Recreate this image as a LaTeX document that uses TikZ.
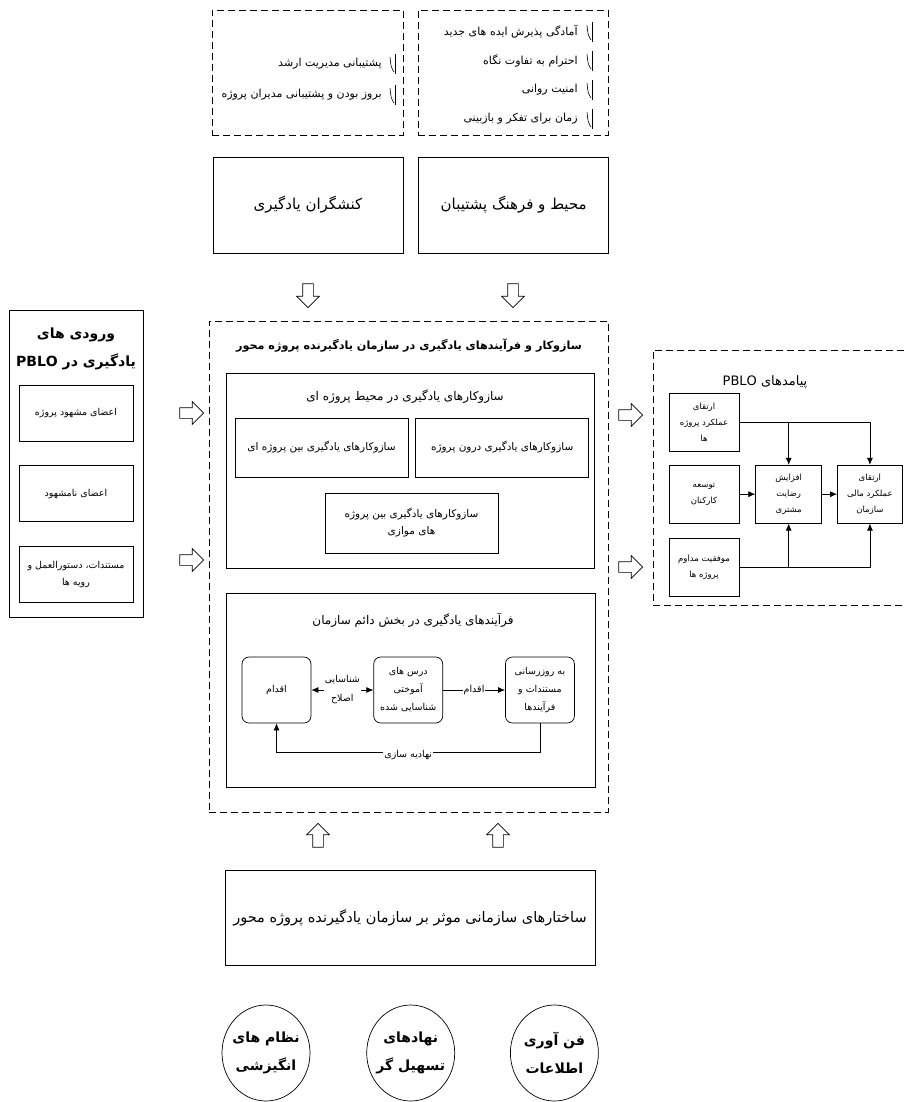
\documentclass[tikz,border=0pt]{standalone}
\usepackage{fontspec}
\setmainfont{DejaVu Sans}[Script=Arabic]
\TeXXeTstate=1
\usetikzlibrary{shapes.geometric, shapes.arrows, arrows.meta, positioning}

\newcommand{\rl}[1]{\beginR #1\endR}
\newcommand{\tickmark}[2]{%
  \draw[line width=0.6pt] (#1,#2-10) -- (#1,#2+10);
  \draw[line width=0.6pt] (#1-5,#2-7) .. controls (#1-4,#2+3) .. (#1-1,#2+8);}

\begin{document}
\begin{tikzpicture}[
    x=1pt, y=-1pt,
    line width=0.7pt,
    box/.style={draw, rectangle, align=center, inner sep=1pt},
    dbox/.style={draw, rectangle, dash pattern=on 7pt off 4pt},
    mech/.style={box, minimum width=173pt, minimum height=59pt, font=\fontsize{10.5}{17}\selectfont},
    pbox/.style={draw, rectangle, rounded corners=7pt, align=center, inner sep=1pt, minimum width=69pt, minimum height=66pt, font=\fontsize{9.5}{18}\selectfont},
    obox/.style={box, minimum width=70pt, minimum height=58pt, font=\fontsize{8.5}{16}\selectfont},
    ibox/.style={box, minimum width=114pt, minimum height=56pt, font=\fontsize{9.5}{17}\selectfont},
    oval/.style={draw, ellipse, align=center, minimum width=88pt, minimum height=96pt, inner xsep=-10pt, inner ysep=1pt, font=\bfseries\fontsize{14}{28}\selectfont},
    fat/.style={draw, fill=white, single arrow, single arrow head extend=6pt, minimum height=24pt, inner sep=5pt},
    link/.style={-{Latex[length=7pt, width=6pt]}},
    listitem/.style={anchor=east, inner sep=0pt, font=\fontsize{11}{13}\selectfont},
    lbl/.style={fill=white, inner sep=1pt, align=center, font=\fontsize{9.5}{19}\selectfont}
]
\clip (0,0) rectangle (905,1102);

% Nodes
\node[dbox, minimum width=191pt, minimum height=125pt] (mgmt) at (307.5,72.5) {};
\node[dbox, minimum width=190pt, minimum height=125pt] (climate) at (513,72.5) {};
\node[listitem] (m1) at (382,64) {\rl{پشتیبانی مدیریت ارشد}};
\node[listitem] (m2) at (382,95) {\rl{بروز بودن و پشتیبانی مدیران پروژه}};
\node[listitem] (c1) at (578,32) {\rl{آمادگی پذیرش ایده های جدید}};
\node[listitem] (c2) at (578,61) {\rl{احترام به تفاوت نگاه}};
\node[listitem] (c3) at (578,90) {\rl{امنیت روانی}};
\node[listitem] (c4) at (578,119) {\rl{زمان برای تفکر و بازبینی}};
\tickmark{395}{64} \tickmark{395}{95}
\tickmark{592}{32} \tickmark{592}{61} \tickmark{592}{90} \tickmark{592}{119}

\node[box, minimum width=190pt, minimum height=96pt, font=\fontsize{15}{17}\selectfont] (actors) at (308,205) {\rl{کنشگران یادگیری}};
\node[box, minimum width=190pt, minimum height=96pt, font=\fontsize{15}{17}\selectfont, right=15pt of actors] (culture) {\rl{محیط و فرهنگ پشتیبان}};
\node[fat, shape border rotate=270] (down1) at (308,293) {};
\node[fat, shape border rotate=270] (down2) at (513,293) {};

% core of the organisation
\node[dbox, minimum width=399pt, minimum height=491pt] (core) at (408.5,566.5) {};
\node[font=\bfseries\fontsize{11.2}{13}\selectfont] (coretitle) at (409,346) {\rl{سازوکار و فرآیندهای یادگیری در سازمان یادگیرنده پروژه محور}};
\node[box, minimum width=368pt, minimum height=195pt] (projenv) at (410,470.5) {};
\node[font=\fontsize{12}{14}\selectfont] (projtitle) at (405,397) {\rl{سازوکارهای یادگیری در محیط پروژه ای}};
\node[mech] (inter) at (321.5,447.5) {\rl{سازوکارهای یادگیری بین پروژه ای}};
\node[mech, right=7pt of inter] (intra) {\rl{سازوکارهای یادگیری درون پروژه}};
\node[mech, minimum height=60pt] (parallel) at (411.5,523) {\rl{سازوکارهای یادگیری بین پروژه}\\\rl{های موازی}};

\node[box, minimum width=369pt, minimum height=194pt] (permanent) at (410.5,690) {};
\node[font=\fontsize{12}{14}\selectfont] (permtitle) at (413,620) {\rl{فرآیندهای یادگیری در بخش دائم سازمان}};
\node[pbox] (act) at (276.5,690) {\rl{اقدام}};
\node[pbox, right=62pt of act] (lessons) {\rl{درس های}\\\rl{آموختی}\\\rl{شناسایی شده}};
\node[pbox, right=62pt of lessons] (update) {\rl{به روزرسانی}\\\rl{مستندات و}\\\rl{فرآیندها}};

% inputs
\node[box, minimum width=134pt, minimum height=307pt] (inputs) at (76,463.5) {};
\node[align=center, font=\bfseries\fontsize{14}{28}\selectfont] (inputstitle) at (76,349) {\rl{ورودی های}\\\rl{یادگیری در \beginL PBLO\endL}};
\node[ibox] (visible) at (76,413) {\rl{اعضای مشهود پروژه}};
\node[ibox, below=24pt of visible] (invisible) {\rl{اعضای نامشهود}};
\node[ibox, below=24pt of invisible] (docs) {\rl{مستندات، دستورالعمل و}\\\rl{رویه ها}};
\node[fat] (in1) at (189,413) {};
\node[fat] (in2) at (189,560) {};

% outcomes
\node[fat] (out1) at (628,415) {};
\node[fat] (out2) at (628,567) {};
\node[dbox, minimum width=262pt, minimum height=255pt] (outcomes) at (784,477.5) {};
\node[font=\fontsize{13}{15}\selectfont] (outtitle) at (765,382) {\rl{پیامدهای \beginL PBLO\endL}};
\node[obox] (projperf) at (704,422.5) {\rl{ارتقای}\\\rl{عملکرد پروژه}\\\rl{ها}};
\node[obox, below=13pt of projperf] (staff) {\rl{توسعه}\\\rl{کارکنان}};
\node[obox, below=14pt of staff] (success) {\rl{موفقیت مداوم}\\\rl{پروژه ها}};
\node[obox, minimum width=66pt, right=16pt of staff] (satisf) {\rl{افزایش}\\\rl{رضایت}\\\rl{مشتری}};
\node[obox, minimum width=65pt, right=15pt of satisf] (finance) {\rl{ارتقای}\\\rl{عملکرد مالی}\\\rl{سازمان}};

% structures
\node[fat, shape border rotate=90] (up1) at (318,838) {};
\node[fat, shape border rotate=90] (up2) at (498,838) {};
\node[box, minimum width=370pt, minimum height=95pt, font=\fontsize{14.5}{17}\selectfont] (structures) at (410,917.5) {\rl{ساختارهای سازمانی موثر بر سازمان یادگیرنده پروژه محور}};
\node[oval] (motiv) at (266,1053) {\rl{نظام های}\\\rl{انگیزشی}};
\node[oval, right=56pt of motiv] (facil) {\rl{نهادهای}\\\rl{تسهیل گر}};
\node[oval, right=55pt of facil] (infotech) {\rl{فن آوری}\\\rl{اطلاعات}};

% Arrows
\draw[{Latex[length=7pt, width=6pt]}-{Latex[length=7pt, width=6pt]}] (act) -- node[lbl] (fixlbl) {\rl{شناسایی}\\\rl{اصلاح}} (lessons);
\draw[link] (lessons) -- node[lbl] (actlbl) {\rl{اقدام}} (update);
\draw[link] (update.south) -- ++(0,29) -| node[lbl, pos=0.25, yshift=-3pt] (instlbl) {\rl{نهادیه سازی}} (act.south);

\draw[link] (projperf.east) -| (finance.north);
\draw[link] (projperf.east -| satisf.north) -- (satisf.north);
\draw[link] (staff) -- (satisf);
\draw[link] (satisf) -- (finance);
\draw[link] (success.east) -| (finance.south);
\draw[link] (success.east -| satisf.south) -- (satisf.south);

\end{tikzpicture}
\end{document}
